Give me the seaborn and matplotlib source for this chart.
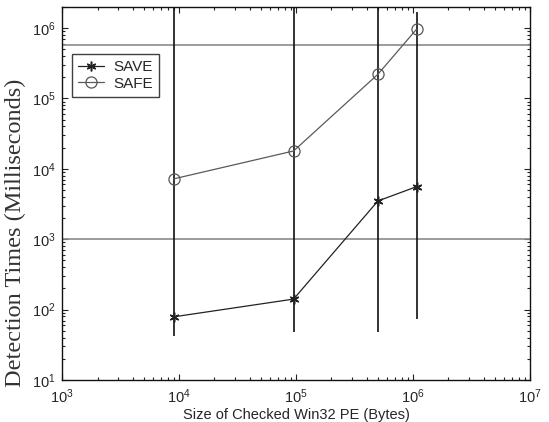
import numpy as np
import pandas as pd
import matplotlib
matplotlib.use('Agg')
import matplotlib.pyplot as plt
import seaborn as sns

# file sizes (bytes) and detection times (ms)
sizes = [9.0e3, 9.5e4, 5.0e5, 1.07e6]
save_ms = [79, 141, 3490, 5570]
safe_ms = [7200, 17900, 220000, 960000]

# vertical range bars at each size
range_low = [42, 48, 48, 73]
range_high = [3e6, 3e6, 3e6, 1.7e6]

# horizontal reference levels
ref_levels = [1e3, 5.8e5]

df = pd.DataFrame({'size': sizes * 2,
                   'ms': save_ms + safe_ms,
                   'method': ['SAVE'] * 4 + ['SAFE'] * 4})

sns.set_theme(style='ticks')
plt.rcParams['font.family'] = ['Liberation Sans', 'DejaVu Sans']
plt.rcParams['mathtext.fontset'] = 'custom'
plt.rcParams['mathtext.rm'] = 'Liberation Sans'
plt.rcParams['mathtext.it'] = 'Liberation Sans'
plt.rcParams['mathtext.bf'] = 'Liberation Sans'

fig = plt.figure(figsize=(5.49, 4.22), dpi=100)
ax = fig.add_axes([0.1135, 0.0995, 0.852, 0.8845])

for y in ref_levels:
    ax.axhline(y, color='#8a8a8a', lw=1.2, zorder=1)
ax.vlines(sizes, range_low, range_high, color='#111111', lw=1.2, zorder=2)

sns.lineplot(data=df[df.method == 'SAVE'], x='size', y='ms', ax=ax,
             color='#222222', lw=0.9, marker=(6, 2, 0), markersize=7,
             markeredgecolor='#222222', markeredgewidth=1.1,
             label='SAVE', zorder=3)
sns.lineplot(data=df[df.method == 'SAFE'], x='size', y='ms', ax=ax,
             color='#5a5a5a', lw=0.9, marker='o', markersize=8,
             markerfacecolor='none', markeredgecolor='#555555',
             markeredgewidth=0.9, label='SAFE', zorder=3)

ax.set_xscale('log')
ax.set_yscale('log')
ax.set_xlim(1e3, 1e7)
ax.set_ylim(1e1, 2e6)

ax.tick_params(which='both', direction='in', top=True, right=True,
               labelsize=10.5, color='#222222')
ax.tick_params(which='major', length=4, width=0.8, pad=5)
ax.tick_params(which='minor', length=2.5, width=0.8)
for sp in ax.spines.values():
    sp.set_linewidth(1.0)
    sp.set_color('#111111')

ax.set_xlabel('Size of Checked Win32 PE (Bytes)', fontsize=10.5, labelpad=2)
ax.set_ylabel('Detection Times (Milliseconds)', fontsize=17.5,
              family=['Liberation Serif', 'DejaVu Serif'], color='#333333')
ax.yaxis.set_label_coords(-0.078, 0.394)

leg = ax.legend(loc='upper left', bbox_to_anchor=(0.021, 0.873),
                fontsize=11, frameon=True, fancybox=False,
                handlelength=1.7, borderpad=0.4, labelspacing=0.15,
                handletextpad=0.6, borderaxespad=0)
leg.get_frame().set_edgecolor('#111111')
leg.get_frame().set_linewidth(1.0)

fig.savefig('out.png', dpi=100)
